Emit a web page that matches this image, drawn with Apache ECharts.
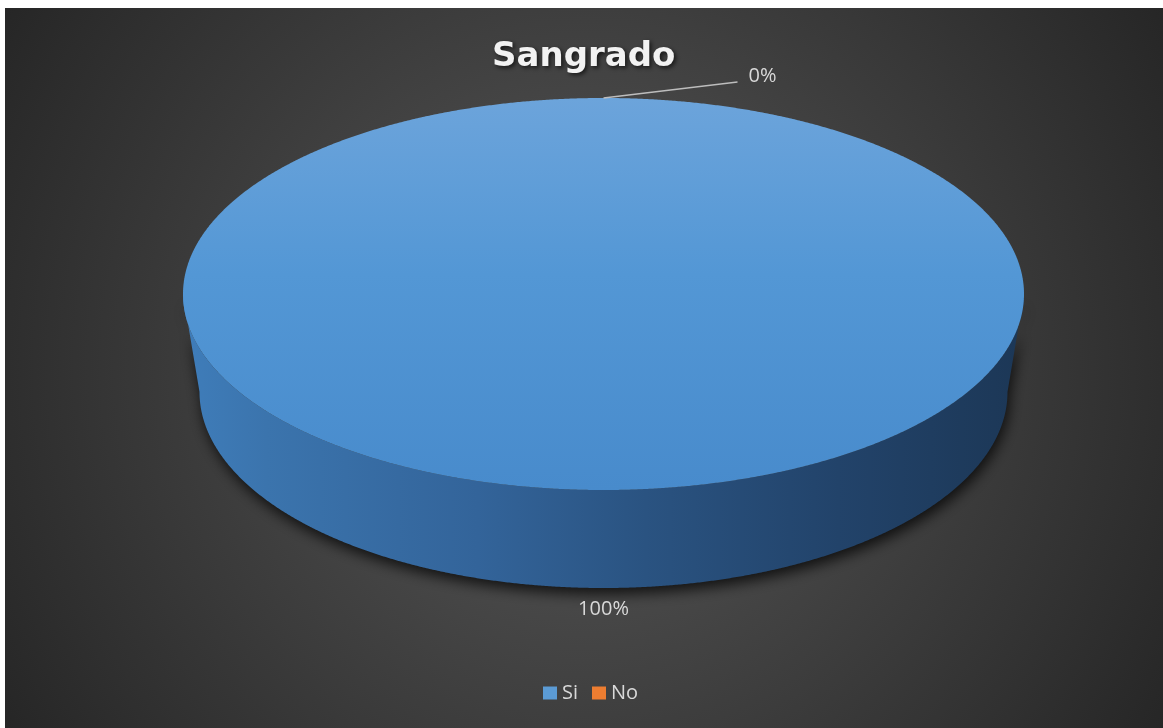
<!DOCTYPE html>
<html>
<head>
<meta charset="utf-8">
<title>Sangrado</title>
<script src="https://cdn.jsdelivr.net/npm/echarts@6/dist/echarts.min.js"></script>
<style>
  html, body { margin: 0; padding: 0; background: #ffffff; }
  #chart { width: 1163px; height: 728px; }
</style>
</head>
<body>
<div id="chart"></div>
<script>
// Categories and their shares (percent of cases)
const categories = ['Si', 'No'];
const values = [100, 0];
const palette = ['#5b9bd5', '#ed7d31'];

// Layout of the tilted pie (pixels)
const PIE = { cx: 603.5, cy: 294, rx: 420.5, ry: 196, depth: 98, rxBottom: 404 };

const TAU = Math.PI * 2;
const total = values.reduce((a, b) => a + b, 0);
const starts = [];
let acc = 0;
values.forEach(v => { starts.push(acc / total * TAU); acc += v; });

function topPt(t) {
  return [PIE.cx + PIE.rx * Math.sin(t), PIE.cy - PIE.ry * Math.cos(t)];
}
function botPt(t) {
  return [PIE.cx + PIE.rxBottom * Math.sin(t), PIE.cy + PIE.depth - PIE.ry * Math.cos(t)];
}
function arc(fn, a0, a1) {
  const n = Math.max(2, Math.ceil(Math.abs(a1 - a0) / (Math.PI / 720)));
  const pts = [];
  for (let k = 0; k <= n; k++) pts.push(fn(a0 + (a1 - a0) * k / n));
  return pts;
}

const topFill = {
  type: 'linear', global: true, x: 0, y: PIE.cy - PIE.ry, x2: 0, y2: PIE.cy + PIE.ry,
  colorStops: [
    { offset: 0, color: '#6ca4db' },
    { offset: 0.45, color: '#5397d5' },
    { offset: 1, color: '#488bcc' }
  ]
};
const sideFill = {
  type: 'linear', global: true, x: PIE.cx - PIE.rx, y: 0, x2: PIE.cx + PIE.rx, y2: 0,
  colorStops: [
    { offset: 0, color: '#3f7dba' },
    { offset: 0.1, color: '#3b74ad' },
    { offset: 0.35, color: '#33649a' },
    { offset: 0.55, color: '#2a5381' },
    { offset: 0.78, color: '#22436a' },
    { offset: 1, color: '#1c3756' }
  ]
};

function renderSlice(params, api) {
  const i = params.seriesIndex;
  const a0 = starts[i];
  const a1 = a0 + values[i] / total * TAU;
  const children = [];

  // Front wall of the slice (only the part facing the viewer)
  const s = Math.max(a0, Math.PI / 2), e = Math.min(a1, Math.PI * 1.5);
  if (e > s) {
    const pts = arc(topPt, s, e).concat(arc(botPt, e, s));
    children.push({
      type: 'polygon', z2: 1,
      shape: { points: pts },
      style: {
        fill: i === 0 ? sideFill : palette[i],
        shadowBlur: 14, shadowColor: 'rgba(0,0,0,0.75)', shadowOffsetX: 2, shadowOffsetY: 6
      }
    });
  }

  // Top face
  if (a1 > a0) {
    const full = (a1 - a0) >= TAU - 1e-9;
    const pts = full ? arc(topPt, a0, a1) : [[PIE.cx, PIE.cy]].concat(arc(topPt, a0, a1));
    children.push({
      type: 'polygon', z2: 2,
      shape: { points: pts },
      style: { fill: i === 0 ? topFill : palette[i] }
    });
  }

  // Percentage label
  const mid = ((a0 + a1) / 2) % TAU;
  const pct = Math.round(values[i] / total * 100) + '%';
  const font = '20px "Open Sans"';
  if (Math.cos(mid) < 0) {
    const p = botPt(mid);
    children.push({
      type: 'text', z2: 3,
      style: {
        text: pct, x: p[0] + 21 * Math.sin(mid), y: p[1] - 21 * Math.cos(mid),
        fill: '#d9d9d9', font: font, align: 'center', verticalAlign: 'middle'
      }
    });
  } else {
    const p = topPt(mid);
    const dir = Math.sin(mid) < -1e-6 ? -1 : 1;
    const end = [p[0] + dir * 134, p[1] - 16];
    children.push({
      type: 'polyline', z2: 3,
      shape: { points: [p, end] },
      style: { stroke: '#bdbdbd', lineWidth: 1.5, fill: null }
    });
    children.push({
      type: 'text', z2: 3,
      style: {
        text: pct, x: end[0] + dir * 11, y: end[1] - 6,
        fill: '#d9d9d9', font: font, align: dir > 0 ? 'left' : 'right', verticalAlign: 'middle'
      }
    });
  }
  return { type: 'group', children: children };
}

const chart = echarts.init(document.getElementById('chart'), null, { renderer: 'canvas' });
chart.setOption({
  animation: false,
  backgroundColor: '#ffffff',
  graphic: {
    elements: [{
      type: 'rect', z: -100, silent: true,
      shape: { x: 5, y: 8, width: 1158, height: 720 },
      style: {
        fill: {
          type: 'radial', x: 0.5, y: 0.5, r: 0.95,
          colorStops: [
            { offset: 0, color: '#4a4a4a' },
            { offset: 0.35, color: '#474747' },
            { offset: 1, color: '#262626' }
          ]
        }
      }
    }]
  },
  title: {
    text: 'Sangrado',
    left: 487, top: 35,
    textStyle: {
      fontFamily: 'DejaVu Sans', fontWeight: 'bold', fontSize: 34, color: '#f2f2f2',
      textShadowColor: 'rgba(0,0,0,0.65)', textShadowBlur: 4,
      textShadowOffsetX: 2, textShadowOffsetY: 2
    }
  },
  legend: {
    data: categories,
    left: 538, top: 678,
    icon: 'rect', itemWidth: 14, itemHeight: 13, itemGap: 14,
    textStyle: { color: '#d9d9d9', fontSize: 20, fontFamily: 'Open Sans' }
  },
  series: categories.map((name, i) => ({
    type: 'custom',
    name: name,
    coordinateSystem: 'none',
    itemStyle: { color: palette[i] },
    data: [i],
    renderItem: renderSlice
  }))
});
</script>
</body>
</html>
